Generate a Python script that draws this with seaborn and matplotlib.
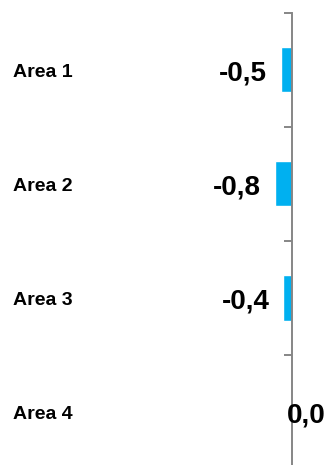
import matplotlib
matplotlib.use("Agg")
import matplotlib.pyplot as plt
import matplotlib.transforms as mtransforms
import seaborn as sns
import pandas as pd

areas = ["Area 1", "Area 2", "Area 3", "Area 4"]
values = [-0.5, -0.8, -0.4, 0.0]
value_labels = ["-0,5", "-0,8", "-0,4", "0,0"]

sns.set_theme(style="white")
plt.rcParams['font.family'] = ['Liberation Sans', 'DejaVu Sans']

W, H, DPI = 328, 465, 100
fig = plt.figure(figsize=(W / DPI, H / DPI), dpi=DPI)
top_px, bot_px = 12.7, 468.7
ax = fig.add_axes([0, 1 - bot_px / H, 1, (bot_px - top_px) / H])

df = pd.DataFrame({"area": areas, "value": values})
sns.barplot(data=df, x="value", y="area", orient="h", color="#00B0F0",
            saturation=1, width=0.4, ax=ax)

zero_px = 291.7
scale = 21.3
ax.set_xlim(-zero_px / scale, (W - zero_px) / scale)
ax.set_ylim(len(areas) - 0.5, -0.5)

gray = "#868686"
for s in ["top", "right", "bottom"]:
    ax.spines[s].set_visible(False)
ax.spines["left"].set_position(("data", 0))
ax.spines["left"].set_color(gray)
ax.spines["left"].set_linewidth(1.4)
ax.set_yticks([i - 0.5 for i in range(len(areas) + 1)])
ax.set_yticklabels([])
ax.tick_params(axis="y", direction="out", length=5.5, width=1.4, color=gray, left=True)
ax.set_xticks([])
ax.set_xlabel("")
ax.set_ylabel("")
ax.patch.set_alpha(0)

trans = mtransforms.blended_transform_factory(ax.transAxes, ax.transData)
for i, name in enumerate(areas):
    ax.annotate(name, (13 / W, i), xycoords=trans, xytext=(0, -2.2),
                textcoords="offset points", ha="left", va="center",
                fontsize=14, fontweight="bold", color="black")

for i, (v, lab) in enumerate(zip(values, value_labels)):
    if v < 0:
        ax.annotate(lab, (v, i), xytext=(-10, -2.5), textcoords="offset points",
                    ha="right", va="center", fontsize=20, fontweight="bold", color="black")
    else:
        ax.annotate(lab, (v, i), xytext=(-3.6, -2.5), textcoords="offset points",
                    ha="left", va="center", fontsize=20, fontweight="bold", color="black")

fig.savefig("out.png", dpi=DPI)
